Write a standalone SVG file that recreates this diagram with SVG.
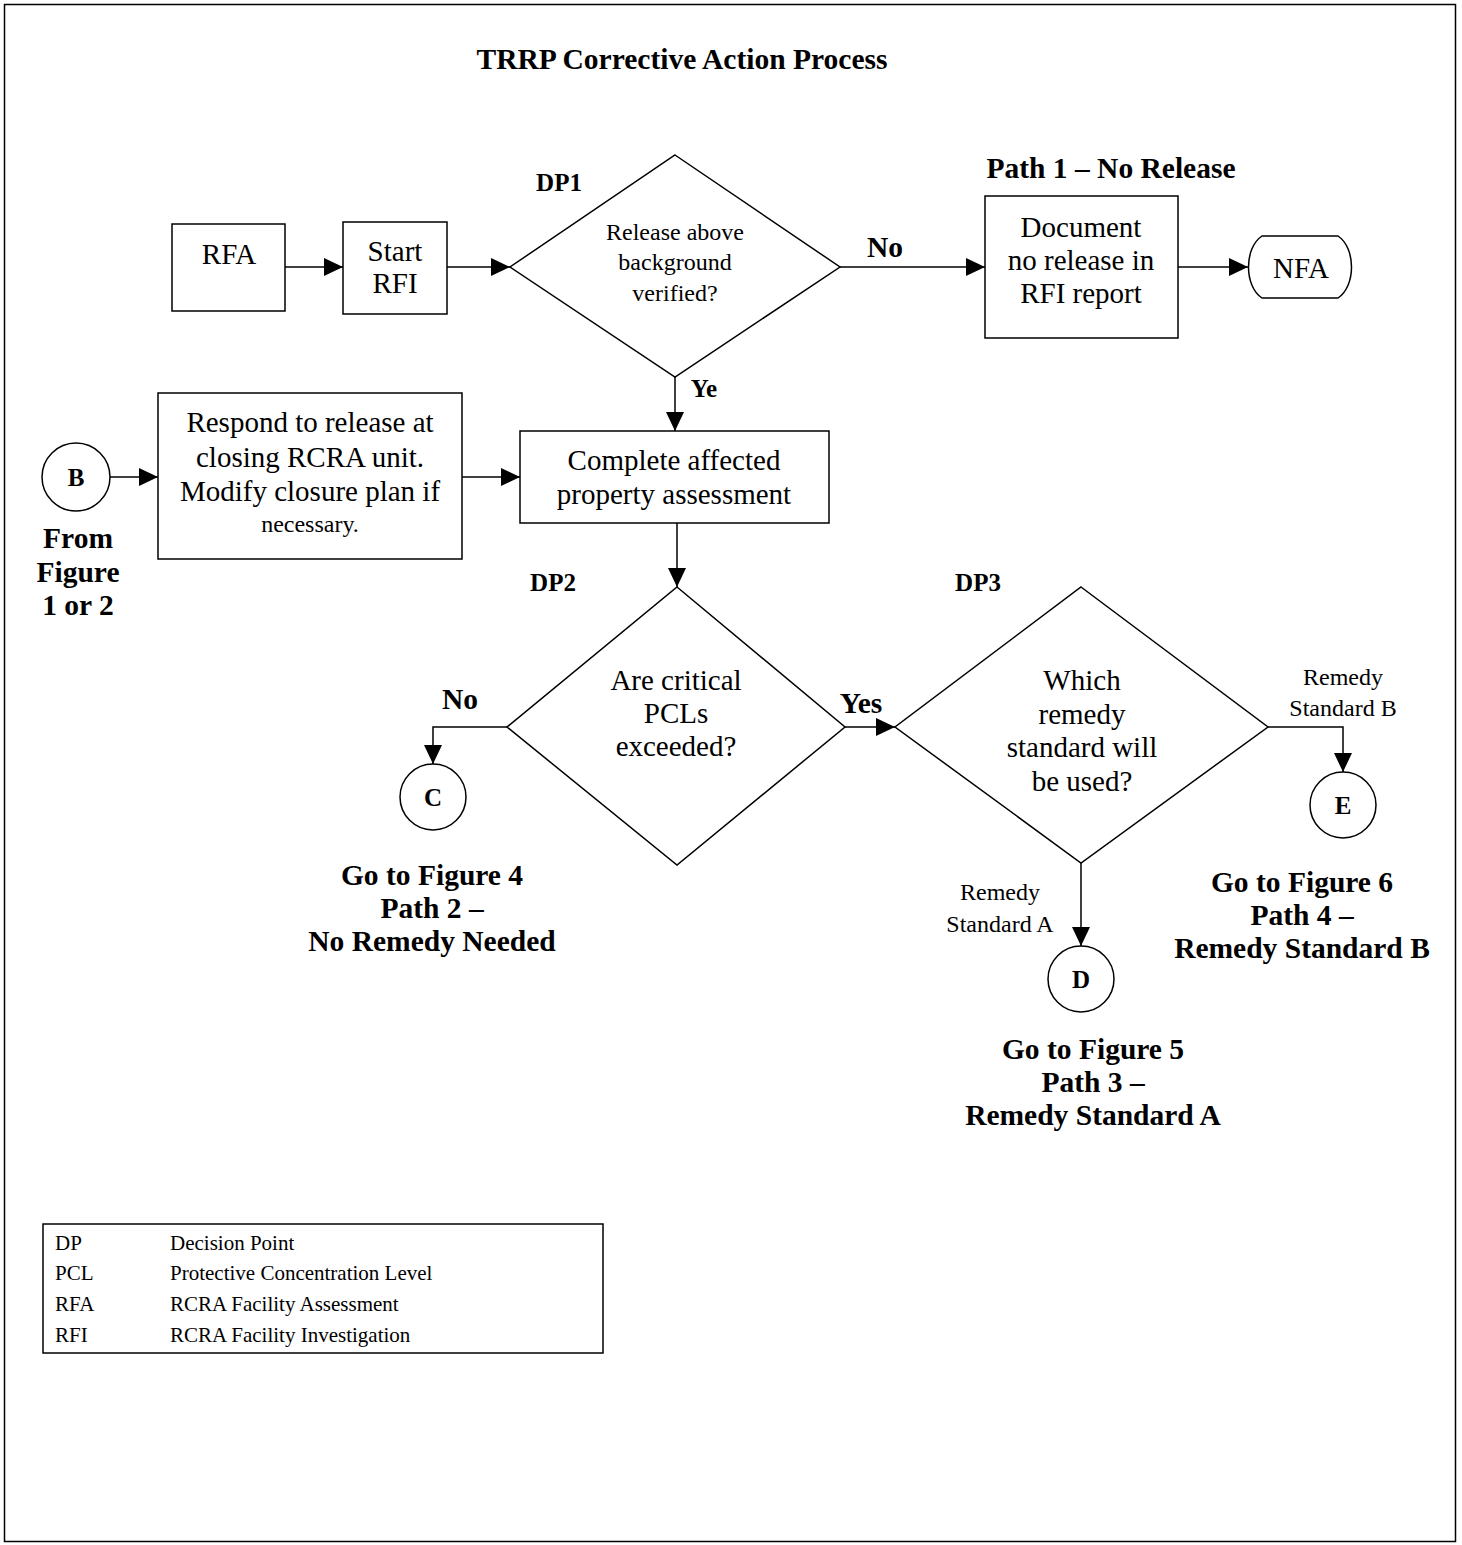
<svg xmlns="http://www.w3.org/2000/svg" width="1462" height="1545" viewBox="0 0 1462 1545">
<style>
.s{fill:#fff;stroke:#000;stroke-width:1.5}
.c{fill:none;stroke:#000;stroke-width:1.5}
text{font-family:"Liberation Serif","Times New Roman",serif;fill:#000}
.t{font-size:29px;text-anchor:middle}
.m{font-size:24px;text-anchor:middle}
.b{font-size:29.5px;font-weight:bold;text-anchor:middle}
.bs{font-size:25px;font-weight:bold;text-anchor:middle}
.l{font-size:21px}
</style>
<defs>
<marker id="ah" markerUnits="userSpaceOnUse" markerWidth="20" markerHeight="18" refX="19" refY="9" orient="auto">
<path d="M0,0 L19,9 L0,18 Z" fill="#000"/>
</marker>
</defs>
<rect x="4.5" y="4.5" width="1451" height="1537" fill="#fff" stroke="#000" stroke-width="1.5"/>
<text class="b" x="682" y="69">TRRP Corrective Action Process</text>

<g id="connectors">
<line class="c" x1="285" y1="267" x2="343" y2="267" marker-end="url(#ah)"/>
<line class="c" x1="447" y1="267" x2="510" y2="267" marker-end="url(#ah)"/>
<line class="c" x1="840" y1="267" x2="985" y2="267" marker-end="url(#ah)"/>
<line class="c" x1="1178" y1="267" x2="1248" y2="267" marker-end="url(#ah)"/>
<line class="c" x1="675" y1="377" x2="675" y2="431" marker-end="url(#ah)"/>
<line class="c" x1="110" y1="477" x2="158" y2="477" marker-end="url(#ah)"/>
<line class="c" x1="462" y1="477" x2="520" y2="477" marker-end="url(#ah)"/>
<line class="c" x1="677" y1="523" x2="677" y2="587" marker-end="url(#ah)"/>
<polyline class="c" points="507,727 433,727 433,764" marker-end="url(#ah)"/>
<line class="c" x1="845" y1="727" x2="895" y2="727" marker-end="url(#ah)"/>
<polyline class="c" points="1268,727 1343,727 1343,772" marker-end="url(#ah)"/>
<line class="c" x1="1081" y1="863" x2="1081" y2="946" marker-end="url(#ah)"/>
<text class="b" x="885" y="257">No</text>
<text class="bs" x="704" y="397">Ye</text>
<text class="b" x="460" y="709">No</text>
<text class="b" x="861" y="713">Yes</text>
<text class="m" x="1343" y="685">Remedy</text>
<text class="m" x="1343" y="716">Standard B</text>
<text class="m" x="1000" y="900">Remedy</text>
<text class="m" x="1000" y="932">Standard A</text>
</g>

<g id="rfa">
<rect class="s" x="172" y="224" width="113" height="87"/>
<text class="t" x="229" y="264">RFA</text>
</g>
<g id="start-rfi">
<rect class="s" x="343" y="222" width="104" height="92"/>
<text class="t" x="395" y="261">Start</text>
<text class="t" x="395" y="293">RFI</text>
</g>
<g id="dp1">
<polygon class="s" points="675,155 840,267 675,377 510,267"/>
<text class="bs" x="559" y="191">DP1</text>
<text class="m" x="675" y="240">Release above</text>
<text class="m" x="675" y="270">background</text>
<text class="m" x="675" y="301">verified?</text>
</g>
<g id="document">
<text class="b" x="1111" y="178">Path 1 – No Release</text>
<rect class="s" x="985" y="196" width="193" height="142"/>
<text class="t" x="1081" y="237">Document</text>
<text class="t" x="1081" y="270">no release in</text>
<text class="t" x="1081" y="303">RFI report</text>
</g>
<g id="nfa">
<path class="s" d="M1262,236 L1338,236 C1356,248 1356,286 1338,298 L1262,298 C1244,286 1244,248 1262,236 Z"/>
<text class="t" x="1301" y="278">NFA</text>
</g>
<g id="b">
<circle class="s" cx="76" cy="477" r="34"/>
<text class="bs" x="76" y="486">B</text>
<text class="b" x="78" y="548">From</text>
<text class="b" x="78" y="582">Figure</text>
<text class="b" x="78" y="615">1 or 2</text>
</g>
<g id="respond">
<rect class="s" x="158" y="393" width="304" height="166"/>
<text class="t" x="310" y="432">Respond to release at</text>
<text class="t" x="310" y="467">closing RCRA unit.</text>
<text class="t" x="310" y="501">Modify closure plan if</text>
<text class="m" x="310" y="532">necessary.</text>
</g>
<g id="complete">
<rect class="s" x="520" y="431" width="309" height="92"/>
<text class="t" x="674" y="470">Complete affected</text>
<text class="t" x="674" y="504">property assessment</text>
</g>
<g id="dp2">
<polygon class="s" points="677,587 845,727 677,865 507,727"/>
<text class="bs" x="553" y="591">DP2</text>
<text class="t" x="676" y="690">Are critical</text>
<text class="t" x="676" y="723">PCLs</text>
<text class="t" x="676" y="756">exceeded?</text>
</g>
<g id="c">
<circle class="s" cx="433" cy="797" r="33"/>
<text class="bs" x="433" y="806">C</text>
<text class="b" x="432" y="885">Go to Figure 4</text>
<text class="b" x="432" y="918">Path 2 –</text>
<text class="b" x="432" y="951">No Remedy Needed</text>
</g>
<g id="dp3">
<polygon class="s" points="1081,587 1268,727 1081,863 895,727"/>
<text class="bs" x="978" y="591">DP3</text>
<text class="t" x="1082" y="690">Which</text>
<text class="t" x="1082" y="724">remedy</text>
<text class="t" x="1082" y="757">standard will</text>
<text class="t" x="1082" y="791">be used?</text>
</g>
<g id="e">
<circle class="s" cx="1343" cy="805" r="33"/>
<text class="bs" x="1343" y="814">E</text>
<text class="b" x="1302" y="892">Go to Figure 6</text>
<text class="b" x="1302" y="925">Path 4 –</text>
<text class="b" x="1302" y="958">Remedy Standard B</text>
</g>
<g id="d">
<circle class="s" cx="1081" cy="979" r="33"/>
<text class="bs" x="1081" y="988">D</text>
<text class="b" x="1093" y="1059">Go to Figure 5</text>
<text class="b" x="1093" y="1092">Path 3 –</text>
<text class="b" x="1093" y="1125">Remedy Standard A</text>
</g>
<g id="legend">
<rect class="s" x="43" y="1224" width="560" height="129"/>
<text class="l" x="55" y="1250">DP</text>
<text class="l" x="170" y="1250">Decision Point</text>
<text class="l" x="55" y="1280">PCL</text>
<text class="l" x="170" y="1280">Protective Concentration Level</text>
<text class="l" x="55" y="1311">RFA</text>
<text class="l" x="170" y="1311">RCRA Facility Assessment</text>
<text class="l" x="55" y="1342">RFI</text>
<text class="l" x="170" y="1342">RCRA Facility Investigation</text>
</g>
</svg>
